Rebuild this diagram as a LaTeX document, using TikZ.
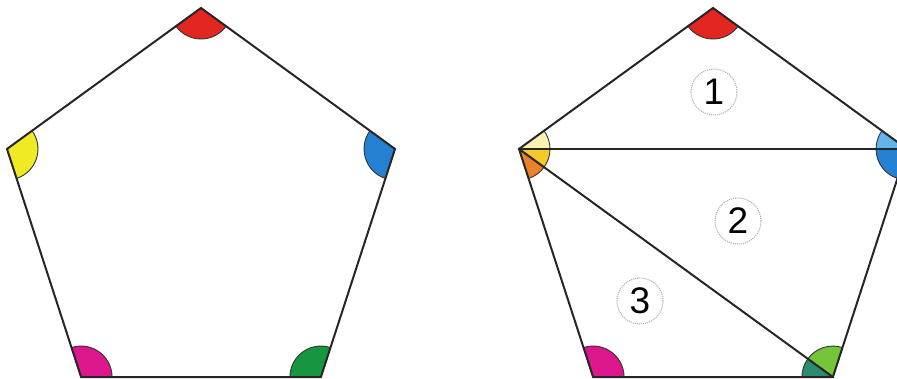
\documentclass[tikz,border=0pt]{standalone}
\usepackage{fontspec}
\setmainfont{Liberation Sans}
\usetikzlibrary{calc}
\begin{document}
\begin{tikzpicture}[x=1pt,y=1pt,
  edge/.style={line width=2pt,draw=black!85,line join=miter},
  wedge/.style={draw=black!80,line width=0.9pt},
  numcirc/.style={circle,draw=gray!60,densely dotted,line width=1.1pt,minimum size=46pt,inner sep=0pt,font=\fontsize{37}{37}\selectfont}]
\useasboundingbox (0,0) rectangle (897,378);
\clip (0,0) rectangle (897,378);
\definecolor{cRed}{RGB}{228,38,32}
\definecolor{cBlue}{RGB}{36,128,208}
\definecolor{cLBlue}{RGB}{100,180,236}
\definecolor{cGreen}{RGB}{22,150,64}
\definecolor{cLGreen}{RGB}{118,196,58}
\definecolor{cTeal}{RGB}{44,140,112}
\definecolor{cMag}{RGB}{222,22,140}
\definecolor{cYel}{RGB}{240,234,36}
\definecolor{cPale}{RGB}{250,240,176}
\definecolor{cGold}{RGB}{246,200,40}
\definecolor{cOrange}{RGB}{236,130,40}
% wedge macro: vertex, start angle, end angle, colour
\newcommand{\angwedge}[4]{\filldraw[wedge,fill=#4] (#1) -- ++(#2:31) arc[start angle=#2,end angle=#3,radius=31] -- cycle;}
% left pentagon
\coordinate (LC) at (201,166);
\coordinate (LT) at ($(LC)+(90:204)$);
\coordinate (LR) at ($(LC)+(18:204)$);
\coordinate (LBR) at ($(LC)+(-54:204)$);
\coordinate (LBL) at ($(LC)+(-126:204)$);
\coordinate (LL) at ($(LC)+(162:204)$);
% right pentagon
\coordinate (RC) at (713,166);
\coordinate (RT) at ($(RC)+(90:204)$);
\coordinate (RR) at ($(RC)+(18:204)$);
\coordinate (RBR) at ($(RC)+(-54:204)$);
\coordinate (RBL) at ($(RC)+(-126:204)$);
\coordinate (RL) at ($(RC)+(162:204)$);
% left wedges
\angwedge{LT}{216}{324}{cRed}
\angwedge{LR}{144}{252}{cBlue}
\angwedge{LBR}{72}{180}{cGreen}
\angwedge{LBL}{0}{108}{cMag}
\angwedge{LL}{-72}{36}{cYel}
% right wedges
\angwedge{RT}{216}{324}{cRed}
\angwedge{RR}{144}{180}{cLBlue}
\angwedge{RR}{180}{252}{cBlue}
\angwedge{RBR}{72}{144}{cLGreen}
\angwedge{RBR}{144}{180}{cTeal}
\angwedge{RBL}{0}{108}{cMag}
\angwedge{RL}{-72}{-36}{cOrange}
\angwedge{RL}{-36}{0}{cGold}
\angwedge{RL}{0}{36}{cPale}
% outlines
\draw[edge] (LT) -- (LR) -- (LBR) -- (LBL) -- (LL) -- cycle;
\draw[edge] (RT) -- (RR) -- (RBR) -- (RBL) -- (RL) -- cycle;
\draw[edge] (RL) -- (RR);
\draw[edge] (RL) -- (RBR);
% numbers
\node[numcirc] (n1) at (714,286) {1};
\node[numcirc] (n2) at (738,157) {2};
\node[numcirc] (n3) at (640,77) {3};
\end{tikzpicture}
\end{document}
